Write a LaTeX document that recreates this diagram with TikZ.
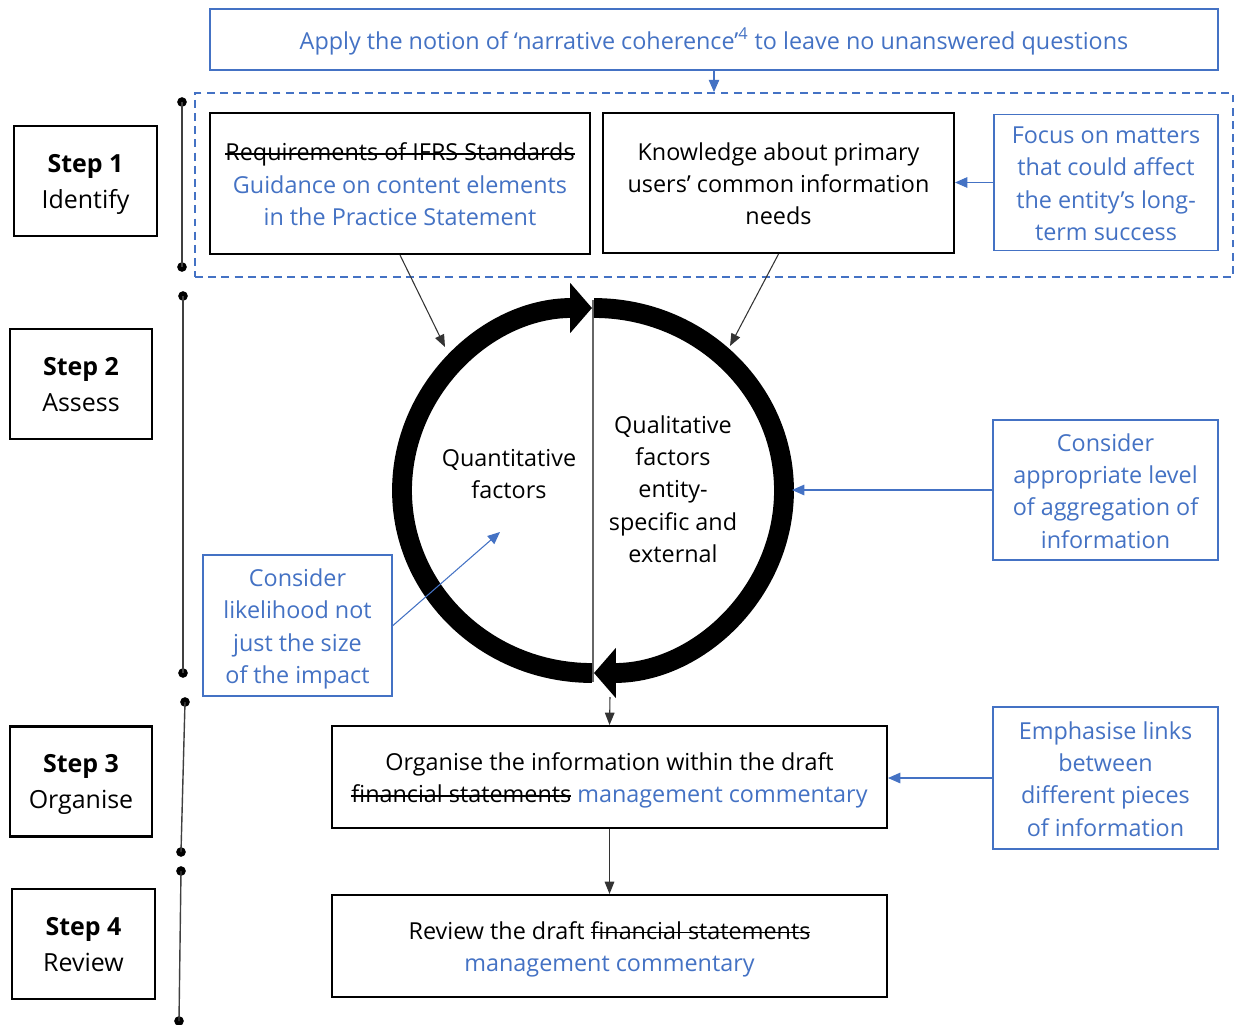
\documentclass[tikz,border=0pt]{standalone}
\usepackage{fontspec}
\setmainfont{Open Sans}
\usetikzlibrary{arrows.meta}
\definecolor{ifblue}{RGB}{68,114,196}
\newcommand\fsz{\fontsize{13.3}{18.4}\selectfont}
\newcommand\fstep{\fontsize{14.2}{20.4}\selectfont}
\newcommand\strk[1]{\leavevmode\setbox0=\hbox{#1}\rlap{\vrule height .33em depth -.26em width \wd0}\box0\relax}
\newcommand\ml[1]{\raisebox{-1.8pt}[\height][\depth]{\begin{tabular}{@{}c@{}}#1\end{tabular}}}
\newcommand\mls[1]{\raisebox{-1.2pt}[\height][\depth]{\begin{tabular}{@{}c@{}}#1\end{tabular}}}
\begin{document}
\begin{tikzpicture}[x=0.02cm,y=-0.02cm,
  box/.style={draw=black, line width=1.2pt, inner sep=0pt, font=\fsz},
  bbox/.style={draw=ifblue, line width=1.1pt, inner sep=0pt, font=\fsz, text=ifblue},
  stepbox/.style={draw=black, line width=1.2pt, inner sep=0pt, font=\fstep, minimum width=2.85cm, minimum height=2.2cm},
  dbox/.style={draw=ifblue, line width=1.1pt, dash pattern=on 4.5pt off 3pt, inner sep=0pt},
  arr/.style={draw=black!80, line width=0.6pt, -{Triangle[length=7pt,width=5.5pt]}},
  barr/.style={draw=ifblue, line width=0.6pt, -{Triangle[length=7pt,width=6pt]}},
  tl/.style={draw=black!75, line width=0.8pt},
  dot/.style={fill=black, circle, inner sep=0pt, minimum size=5.5pt},
  ring/.style={line width=11.3pt, -{Triangle[length=12.5pt,width=28pt]}}
]
\fill[white] (0,0) rectangle (1240,1024);
\useasboundingbox (0,0) rectangle (1240,1024);

% top banner
\node[bbox, minimum width=20.16cm, minimum height=1.22cm] (T) at (714,39.5) {\ml{Apply the notion of ‘narrative coherence’\textsuperscript{4} to leave no unanswered questions}};
\node[dbox, minimum width=20.76cm, minimum height=3.68cm] (DB) at (714,185) {};
\draw[barr] (T.south) -- (DB.north);

% step 1 boxes
\node[box, minimum width=7.6cm, minimum height=2.82cm] (A) at (400,183.5) {\ml{\strk{Requirements of IFRS Standards}\\\textcolor{ifblue}{Guidance on content elements}\\\textcolor{ifblue}{in the Practice Statement}}};
\node[box, minimum width=7.02cm, minimum height=2.8cm] (B) at (778.5,183) {\ml{Knowledge about primary\\users’ common information\\needs}};
\node[bbox, minimum width=4.48cm, minimum height=2.72cm] (C) at (1106,182.5) {\ml{Focus on matters\\that could affect\\the entity’s long-\\term success}};
\draw[barr] (C.west) -- (C.west -| B.east);

% step boxes
\node[stepbox] (S1) at (85.5,181) {\mls{\textbf{Step 1}\\Identify}};
\node[stepbox] (S2) at (81,384) {\mls{\textbf{Step 2}\\Assess}};
\node[stepbox] (S3) at (81,781.5) {\mls{\textbf{Step 3}\\Organise}};
\node[stepbox] (S4) at (83.5,944) {\mls{\textbf{Step 4}\\Review}};

% timeline
\node[dot] (t1a) at (182,102) {};
\node[dot] (t1b) at (182,267) {};
\node[dot] (t2a) at (183,296) {};
\node[dot] (t2b) at (183,673) {};
\node[dot] (t3a) at (185,702) {};
\node[dot] (t3b) at (181,852) {};
\node[dot] (t4a) at (181,871) {};
\node[dot] (t4b) at (179,1021) {};
\draw[tl] (t1a.center) -- (t1b.center);
\draw[tl] (t2a.center) -- (t2b.center);
\draw[tl] (t3a.center) -- (t3b.center);
\draw[tl] (t4a.center) -- (t4b.center);

% circle
\draw[draw=black!60, line width=0.7pt] (593,300) -- (593,682);
\draw[ring] (592,673) arc[start angle=90, end angle=270, x radius=190, y radius=182.5];
\draw[ring] (594,308) arc[start angle=270, end angle=450, x radius=190, y radius=182.5];
\node[font=\fsz, align=center] (QN) at (509,474) {Quantitative\\factors};
\node[font=\fsz, align=center] (QL) at (673,489) {Qualitative\\factors\\entity-\\specific and\\external};

\coordinate (cA) at (445,347);
\coordinate (cB) at (730,346);
\coordinate (cE) at (792,490);
\coordinate (cD) at (500,532);
\coordinate (cO) at (610,697);
\draw[arr] (A.south) -- (cA);
\draw[arr] (B.south) -- (cB);

% assess side boxes
\node[bbox, minimum width=4.5cm, minimum height=2.8cm] (E) at (1105.5,490) {\ml{Consider\\appropriate level\\of aggregation of\\information}};
\draw[barr] (E.west) -- (cE);
\node[bbox, minimum width=3.78cm, minimum height=2.82cm] (D) at (297.5,625.5) {\ml{Consider\\likelihood not\\just the size\\of the impact}};
\draw[barr] (D.east) -- (cD);

% organise / review
\node[box, minimum width=11.1cm, minimum height=2.04cm] (O) at (609.5,777) {\ml{Organise the information within the draft\\\strk{financial statements} \textcolor{ifblue}{management commentary}}};
\node[box, minimum width=11.1cm, minimum height=2.04cm] (R) at (609.5,946) {\ml{Review the draft \strk{financial statements}\\\textcolor{ifblue}{management commentary}}};
\draw[arr] (cO) -- (O.north);
\draw[arr] (O.south) -- (R.north);
\node[bbox, minimum width=4.5cm, minimum height=2.84cm] (F) at (1105.5,778) {\ml{Emphasise links\\between\\different pieces\\of information}};
\draw[barr] (F.west) -- (F.west -| O.east);
\end{tikzpicture}
\end{document}
